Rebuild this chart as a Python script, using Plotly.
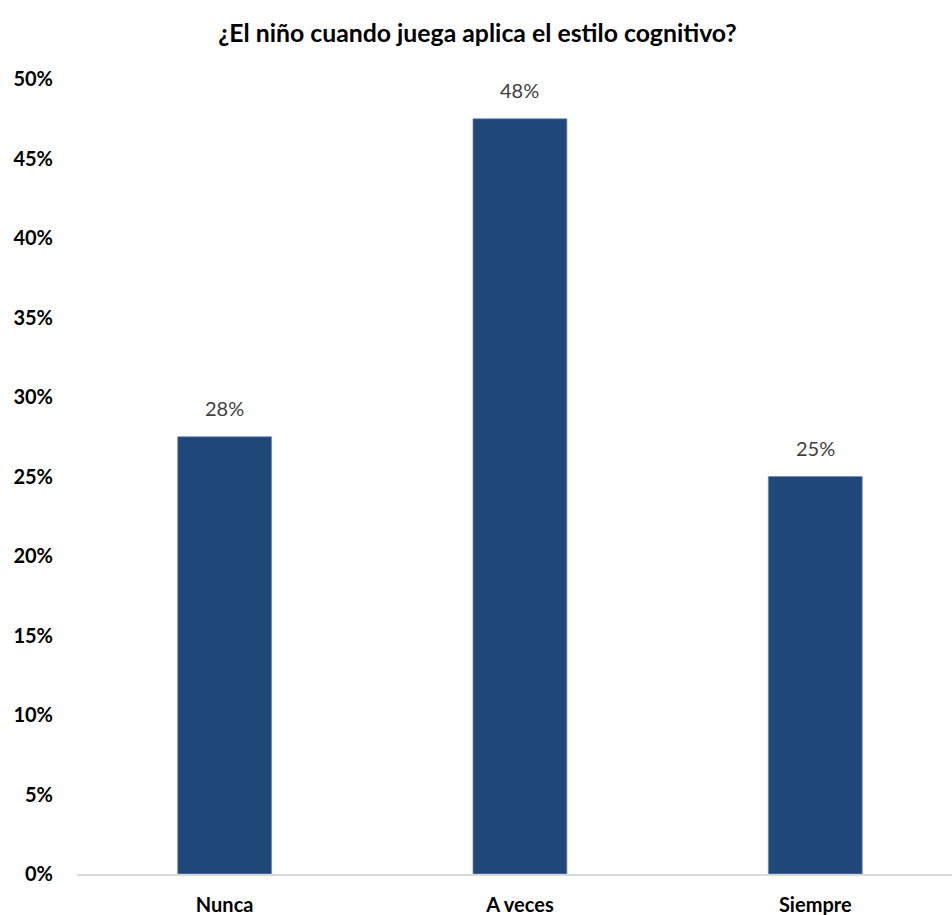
import plotly.graph_objects as go

categories = ["Nunca", "A veces", "Siempre"]
values = [0.275, 0.475, 0.25]
value_labels = ["28%", "48%", "25%"]
y_ticks = [0, 0.05, 0.10, 0.15, 0.20, 0.25, 0.30, 0.35, 0.40, 0.45, 0.50]
y_tick_labels = ["0%", "5%", "10%", "15%", "20%", "25%", "30%", "35%", "40%", "45%", "50%"]

FONT = "Lato, Carlito, Calibri, sans-serif"

fig = go.Figure(go.Bar(
    x=categories,
    y=values,
    marker=dict(color="#1F4878", line=dict(color="#6F8FBF", width=0.8)),
    width=0.318,
))

for c, v, t in zip(categories, values, value_labels):
    fig.add_annotation(x=c, y=v, text=t, showarrow=False, yanchor="bottom",
                       yshift=15, font=dict(family=FONT, size=20, color="#404040"))

fig.update_layout(
    width=952, height=915,
    paper_bgcolor="white", plot_bgcolor="white",
    margin=dict(l=77, r=0, t=79, b=41),
    showlegend=False,
    title=dict(text="<b>¿El niño cuando juega aplica el estilo cognitivo?</b>",
               x=0.5015, xanchor="center", y=0.964, yanchor="middle",
               font=dict(family=FONT, size=24.8, color="#000000")),
    xaxis=dict(range=[-0.5, 2.463], showline=True, linecolor="#D9D9D9", linewidth=1.5,
               showgrid=False, ticks="outside", ticklen=12, tickcolor="rgba(0,0,0,0)",
               tickfont=dict(family=FONT, size=20, color="#000000"),
               tickvals=categories, ticktext=["<b>%s</b>" % c for c in categories]),
    yaxis=dict(range=[0, 0.5], showgrid=False, zeroline=False, showline=False,
               tickvals=y_ticks, ticktext=["<b>%s</b>" % t for t in y_tick_labels],
               ticks="outside", ticklen=19, tickcolor="rgba(0,0,0,0)",
               tickfont=dict(family=FONT, size=20, color="#000000")),
)

fig.write_html("out.html", config={"displayModeBar": False},
               post_script="document.body.style.margin='0';")
